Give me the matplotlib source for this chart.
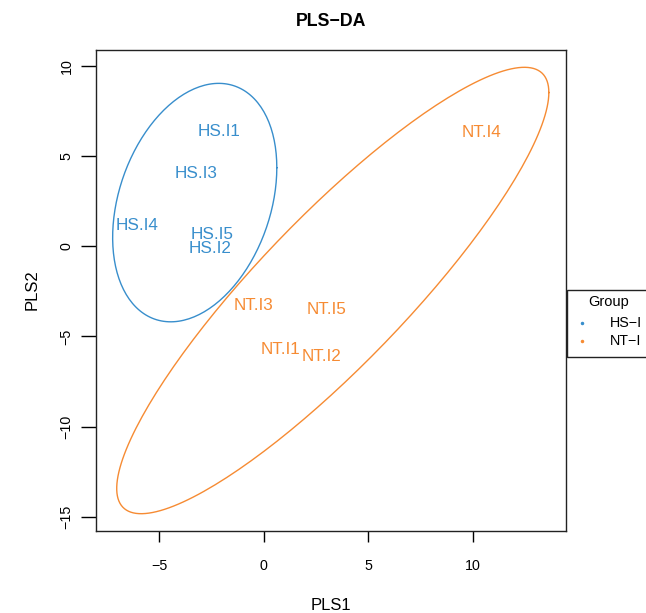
import numpy as np
import matplotlib
matplotlib.use('Agg')
import matplotlib.pyplot as plt
from matplotlib.lines import Line2D
from matplotlib.patches import Rectangle

plt.rcParams['font.family'] = ['Liberation Sans', 'DejaVu Sans']

# sample scores (PLS1, PLS2)
hs_names = ['HS.I1', 'HS.I2', 'HS.I3', 'HS.I4', 'HS.I5']
hs_x = [-2.14, -2.57, -3.24, -6.05, -2.49]
hs_y = [6.37, -0.11, 4.06, 1.18, 0.67]

nt_names = ['NT.I1', 'NT.I2', 'NT.I3', 'NT.I4', 'NT.I5']
nt_x = [0.78, 2.74, -0.50, 10.40, 3.01]
nt_y = [-5.70, -6.10, -3.26, 6.34, -3.50]

# confidence ellipses: centre and shape matrix [[xx, xy], [xy, yy]]
hs_centre = [-3.30, 2.43]
hs_shape = [[15.4, 7.6], [7.6, 43.8]]
nt_centre = [3.30, -2.45]
nt_shape = [[106.7, 113.5], [113.5, 153.5]]

groups = ['HS-I', 'NT-I']
col_hs = '#388ECC'
col_nt = '#F68B33'


def ellipse_xy(centre, shape, n=200):
    t = np.linspace(0, 2 * np.pi, n)
    L = np.linalg.cholesky(np.array(shape))
    pts = L @ np.vstack([np.cos(t), np.sin(t)])
    return pts[0] + centre[0], pts[1] + centre[1]


fig = plt.figure(figsize=(6.46, 6.13), dpi=100)
W, H = 646, 613
ax = fig.add_axes([96 / W, 1 - 531 / H, (566 - 96) / W, (531 - 50) / H])

ex, ey = ellipse_xy(hs_centre, hs_shape)
ax.plot(ex, ey, color=col_hs, lw=1.0)
ex, ey = ellipse_xy(nt_centre, nt_shape)
ax.plot(ex, ey, color=col_nt, lw=1.0)

for name, x, y in zip(hs_names, hs_x, hs_y):
    ax.text(x, y, name, color=col_hs, fontsize=12.3, ha='center', va='center')
for name, x, y in zip(nt_names, nt_x, nt_y):
    ax.text(x, y, name, color=col_nt, fontsize=12.3, ha='center', va='center')

ax.set_xlim(-8.02, 14.45)
ax.set_ylim(-15.8, 10.9)
ax.set_xticks([-5, 0, 5, 10])
ax.set_yticks([-15, -10, -5, 0, 5, 10])
ax.tick_params(axis='x', length=8, width=1, pad=12, labelsize=10.3)
ax.tick_params(axis='y', length=11, width=1, pad=5, labelsize=10.3, labelrotation=90)
for lab in ax.get_yticklabels():
    lab.set_va('center')
for s in ax.spines.values():
    s.set_linewidth(1.0)
    s.set_color('#222222')

fig.text(331 / W, 1 - 605 / H, 'PLS1', fontsize=12, ha='center', va='center')
fig.text(32 / W, 1 - 290 / H, 'PLS2', fontsize=12, ha='center', va='center', rotation=90)
fig.text(331 / W, 1 - 22 / H, 'PLS\u2212DA', fontsize=12.8, fontweight='bold',
         ha='center', va='center')

# legend outside the plot, partly cut by the figure edge
fig.add_artist(Rectangle((567 / W, 1 - 357 / H), 100 / W, 67 / H,
                         transform=fig.transFigure, fill=False, lw=1.0,
                         edgecolor='#222222', clip_on=False))
fig.text(588 / W, 1 - 302 / H, 'Group', fontsize=10.5, ha='left', va='center')
for i, (g, c) in enumerate(zip(groups, [col_hs, col_nt])):
    yy = 1 - (323 + 18 * i) / H
    fig.add_artist(Line2D([582 / W], [yy], marker='o', markersize=1.5, color=c,
                          transform=fig.transFigure))
    fig.text(610 / W, yy, g.replace('-', '\u2212'), fontsize=10.3, ha='left', va='center')

fig.savefig('out.png', dpi=100)
